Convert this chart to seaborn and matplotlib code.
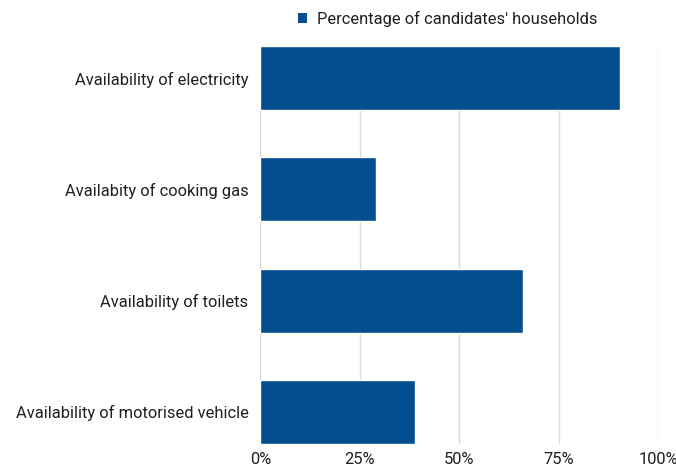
import matplotlib
matplotlib.use("Agg")
import matplotlib.pyplot as plt
import seaborn as sns
import pandas as pd
from matplotlib.ticker import PercentFormatter
from matplotlib.patches import Patch

categories = [
    "Availability of electricity",
    "Availabity of cooking gas",
    "Availability of toilets",
    "Availability of motorised vehicle",
]
values = [90.4, 29.1, 66.0, 38.9]
series_name = "Percentage of candidates' households"
x_ticks = [0, 25, 50, 75, 100]

bar_color = "#034E8F"
grid_color = "#D9D9D9"
text_color = "#1F1F1F"

sns.set_theme(style="white")
plt.rcParams["font.family"] = ["Roboto", "DejaVu Sans"]

df = pd.DataFrame({"category": categories, "value": values})

fig = plt.figure(figsize=(6.76, 4.68), dpi=100)
ax = fig.add_axes([0.385, 0.0513, 0.5885, 0.8504])

bar_h = 0.577
sns.barplot(data=df, x="value", y="category", color=bar_color,
            width=bar_h, saturation=1, ax=ax, zorder=3)

ax.set_xlim(0, 100)
ax.set_ylim(3 + bar_h / 2, -bar_h / 2)
ax.set_xticks(x_ticks)
ax.xaxis.set_major_formatter(PercentFormatter(decimals=0))
ax.grid(axis="x", color=grid_color, linewidth=1, zorder=0)
ax.set_axisbelow(True)
for s in ax.spines.values():
    s.set_visible(False)
ax.set_xlabel("")
ax.set_ylabel("")
ax.tick_params(axis="both", length=0, labelsize=11.9, colors=text_color)
ax.tick_params(axis="x", pad=6)
ax.tick_params(axis="y", pad=8.5)

handle = Patch(facecolor=bar_color, edgecolor="none")
fig.legend([handle], [series_name], loc="center", bbox_to_anchor=(0.662, 0.959),
           frameon=False, fontsize=11.9, handlelength=0.55, handleheight=0.55,
           handletextpad=0.6, labelcolor=text_color)

fig.savefig("out.png", dpi=100)
